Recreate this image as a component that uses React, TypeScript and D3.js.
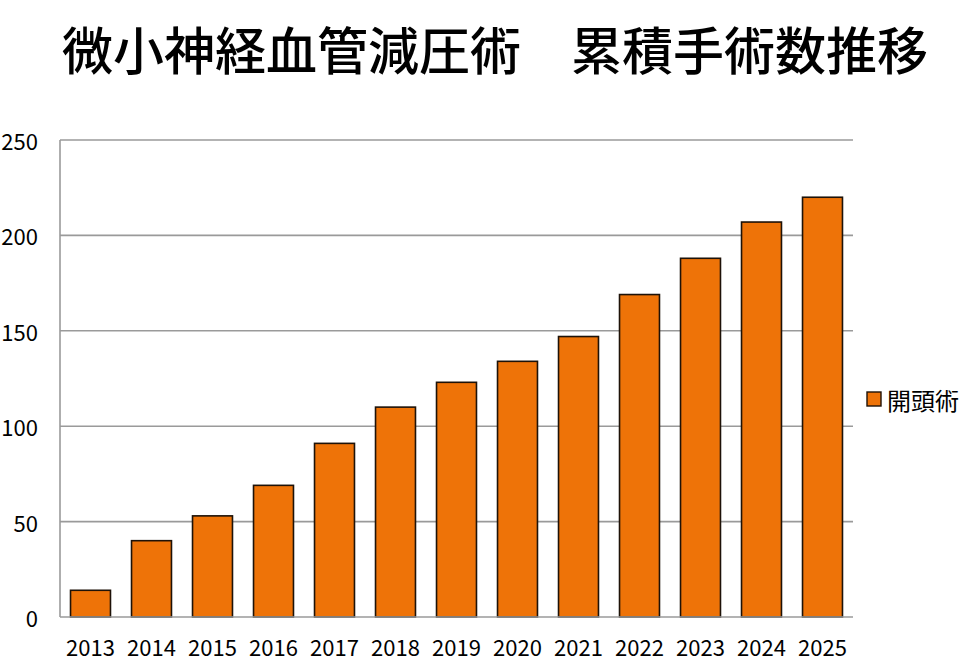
import * as d3 from 'd3';

// chart data
const years = ['2013', '2014', '2015', '2016', '2017', '2018', '2019', '2020', '2021', '2022', '2023', '2024', '2025'];
const totals = [14, 40, 53, 69, 91, 110, 123, 134, 147, 169, 188, 207, 220];
const yTicks = [0, 50, 100, 150, 200, 250];
const seriesName = '開頭術';
const titleLeft = '微小神経血管減圧術';
const titleRight = '累積手術数推移';

const W = 975;
const H = 670;
const margin = { top: 140, right: 122, bottom: 53, left: 60 };
const FONT = '"Noto Sans CJK JP", "Noto Sans", sans-serif';
const BAR = '#ee7308';

export default function App() {
  const x = d3
    .scaleBand<string>()
    .domain(years)
    .range([margin.left, W - margin.right])
    .paddingInner(0.345)
    .paddingOuter(0.1725);
  const y = d3
    .scaleLinear()
    .domain([0, 250])
    .range([H - margin.bottom, margin.top]);

  const x0 = margin.left;
  const x1 = W - margin.right;
  const y0 = y(0);

  return (
    <svg
      width={W}
      height={H}
      style={{ position: 'absolute', left: 0, top: 0, background: '#fff' }}
      fontFamily={FONT}
    >
      <text x={62} y={70} fontSize={51} fontWeight={500} fill='#000'>
        {titleLeft}
      </text>
      <text x={928} y={70} textAnchor='end' fontSize={51} fontWeight={500} fill='#000'>
        {titleRight}
      </text>

      {/* gridlines */}
      {yTicks
        .filter((t) => t > 0)
        .map((t) => (
          <line key={t} x1={x0} x2={x1} y1={y(t)} y2={y(t)} stroke='#9a9a9a' strokeWidth={1.6} />
        ))}

      {/* y labels */}
      {yTicks.map((t) => (
        <text
          key={t}
          x={38}
          y={y(t)}
          textAnchor='end'
          dominantBaseline='central'
          fontSize={22}
          fill='#000'
        >
          {t}
        </text>
      ))}

      {/* bars */}
      {years.map((yr, i) => (
        <rect
          key={yr}
          x={x(yr)}
          y={y(totals[i])}
          width={x.bandwidth()}
          height={y0 - y(totals[i])}
          fill={BAR}
          stroke='#1e1208'
          strokeWidth={1.6}
        />
      ))}

      {/* axes */}
      <line x1={x0} x2={x0} y1={margin.top} y2={y0} stroke='#9a9a9a' strokeWidth={1.6} />
      <line x1={x0} x2={x1} y1={y0} y2={y0} stroke='#9a9a9a' strokeWidth={1.6} />

      {/* x labels */}
      {years.map((yr) => (
        <text
          key={yr}
          x={(x(yr) ?? 0) + x.bandwidth() / 2}
          y={646}
          textAnchor='middle'
          dominantBaseline='central'
          fontSize={22}
          fill='#000'
        >
          {yr}
        </text>
      ))}

      {/* legend */}
      <rect x={867} y={392} width={14} height={14} fill={BAR} stroke='#1e1208' strokeWidth={1.4} />
      <text x={887} y={399} dominantBaseline='central' fontSize={24} fill='#000'>
        {seriesName}
      </text>
    </svg>
  );
}
